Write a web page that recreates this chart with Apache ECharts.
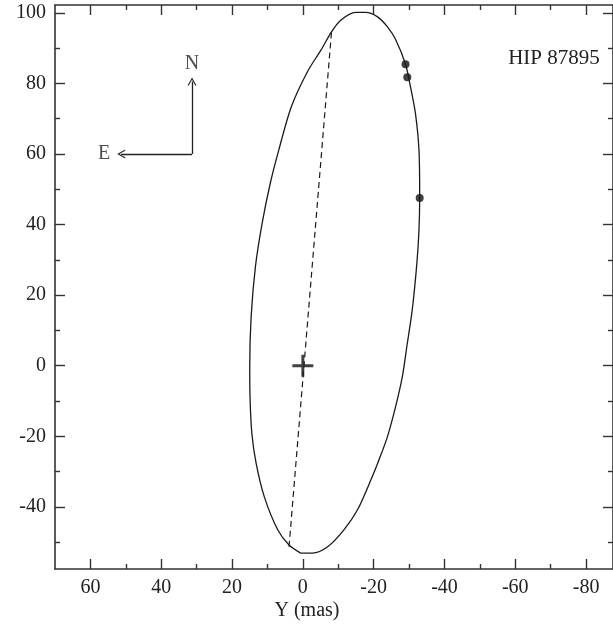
<!DOCTYPE html>
<html>
<head>
<meta charset="utf-8">
<script src="https://cdn.jsdelivr.net/npm/echarts@6/dist/echarts.min.js"></script>
<style>
  html, body { margin: 0; padding: 0; background: #fff; }
  #chart { width: 613px; height: 624px; }
</style>
</head>
<body>
<div id="chart"></div>
<script>
// orbit, going round from the bottom point
const orbitX = [0.6, 3.9, 7.1, 10.9, 13.2, 14.4, 14.9, 15.0, 14.6, 13.4, 11.5, 9.2, 6.8, 3.2, -1.3, -5.1, -8.1, -10.7,
  -14.9, -17.7, -21.0, -23.9, -26.2, -29.0, -30.4, -31.8, -32.8, -33.0, -32.8, -32.2, -30.9, -29.5, -28.1, -26.2,
  -23.9, -21.5, -19.2, -15.4, -11.6, -7.0, -2.7, 0.6];
const orbitY = [-53.1, -50.8, -46.5, -37.1, -27.6, -19.2, -9.5, -0.3, 13.9, 28.0, 40.3, 51.7, 61.1, 73.5, 83.3, 89.4, 94.6, 97.9,
  100.1, 100.1, 98.9, 96.0, 92.4, 85.4, 79.0, 71.5, 61.1, 47.8, 38.4, 29.0, 15.8, 6.3, -3.1, -11.6,
  -20.1, -26.7, -32.4, -40.9, -46.5, -51.3, -53.1, -53.1];

// measured positions
const obsX = [-29.0, -29.5, -33.0];
const obsY = [85.4, 81.7, 47.5];

// line of nodes (dashed)
const nodeX = [3.9, -8.1];
const nodeY = [-51.3, 94.6];

// compass
const compassX = 31.3, compassY = 60;
const northTip = 80.5, eastTip = 51.3;

const xMajor = [60, 40, 20, 0, -20, -40, -60, -80];
const xMinor = [50, 30, 10, -10, -30, -50, -70];
const yMajor = [-40, -20, 0, 20, 40, 60, 80, 100];
const yMinor = [-50, -30, -10, 10, 30, 50, 70, 90];

const serif = 'Liberation Serif';
const ink = '#222';

function axisPart(kind, pos, ticks, len, withLine, withLabel) {
  const ax = {
    type: 'value',
    position: pos,
    axisLine: { show: withLine, onZero: false, lineStyle: { color: '#333', width: 1.6 } },
    axisTick: { show: true, inside: true, length: len, customValues: ticks, lineStyle: { color: '#333', width: 1.4 } },
    axisLabel: { show: withLabel, customValues: ticks, margin: 9, color: ink, fontFamily: serif, fontSize: 20 },
    splitLine: { show: false }
  };
  if (kind === 'x') {
    // the right frame sits just past the edge of the picture
    ax.min = -87.6; ax.max = 70; ax.inverse = true;
  } else {
    ax.min = -57.6; ax.max = 102.2;
  }
  return ax;
}

const chart = echarts.init(document.getElementById('chart'));

const chevron = 'path://M0,10 L5,0 L10,10 L8.6,10 L5,2.8 L1.4,10 Z';
const plus = 'path://M4.3,0 H5.7 V4.3 H10 V5.7 H5.7 V10 H4.3 V5.7 H0 V4.3 H4.3 Z';

chart.setOption({
  animation: false,
  backgroundColor: '#fff',
  title: [
    {
      text: 'HIP 87895', left: 549, top: 43, textAlign: 'center',
      textStyle: { fontFamily: serif, fontSize: 21, fontWeight: 'normal', color: ink }
    },
    {
      text: 'Y (mas)', left: 302, top: 596, textAlign: 'center',
      textStyle: { fontFamily: serif, fontSize: 20, fontWeight: 'normal', color: ink }
    }
  ],
  grid: { left: 55, top: 5, right: 0, bottom: 55, containLabel: false },
  xAxis: [
    axisPart('x', 'bottom', xMajor, 10, true, true),
    axisPart('x', 'bottom', xMinor, 5, false, false),
    axisPart('x', 'top', xMajor, 10, true, false),
    axisPart('x', 'top', xMinor, 5, false, false)
  ],
  yAxis: [
    axisPart('y', 'left', yMajor, 10, true, true),
    axisPart('y', 'left', yMinor, 5, false, false),
    axisPart('y', 'right', yMajor, 10, true, false),
    axisPart('y', 'right', yMinor, 5, false, false)
  ],
  series: [
    {
      name: 'orbit',
      type: 'line',
      data: orbitX.map((x, i) => [x, orbitY[i]]),
      smooth: 0.3,
      symbol: 'none',
      lineStyle: { color: '#1a1a1a', width: 1.3 },
      silent: true
    },
    {
      name: 'nodes',
      type: 'line',
      data: nodeX.map((x, i) => [x, nodeY[i]]),
      symbol: 'none',
      lineStyle: { color: '#1a1a1a', width: 1.2, type: [6, 4] },
      silent: true
    },
    {
      name: 'observations',
      type: 'scatter',
      data: obsX.map((x, i) => [x, obsY[i]]),
      symbol: 'circle',
      symbolSize: 8,
      itemStyle: { color: '#111' }
    },
    {
      name: 'centre',
      type: 'scatter',
      data: [[0, 0]],
      symbol: plus,
      symbolSize: [21, 22],
      itemStyle: { color: '#111' }
    },
    {
      name: 'compass',
      type: 'line',
      data: [],
      markLine: {
        silent: true,
        symbol: ['none', chevron],
        symbolSize: [9, 8],
        label: { show: false },
        lineStyle: { color: '#222', width: 1.3, type: 'solid' },
        data: [
          [{ coord: [compassX, compassY] }, { coord: [compassX, northTip] }],
          [{ coord: [compassX, compassY] }, { coord: [eastTip, compassY] }]
        ]
      }
    },
    {
      name: 'compass letters',
      type: 'scatter',
      data: [[31.3, 85.5, 'N'], [56.1, 60, 'E']],
      symbolSize: 0,
      label: {
        show: true, position: 'inside', formatter: p => p.value[2],
        fontFamily: serif, fontSize: 20, color: ink
      }
    }
  ]
});
</script>
</body>
</html>
